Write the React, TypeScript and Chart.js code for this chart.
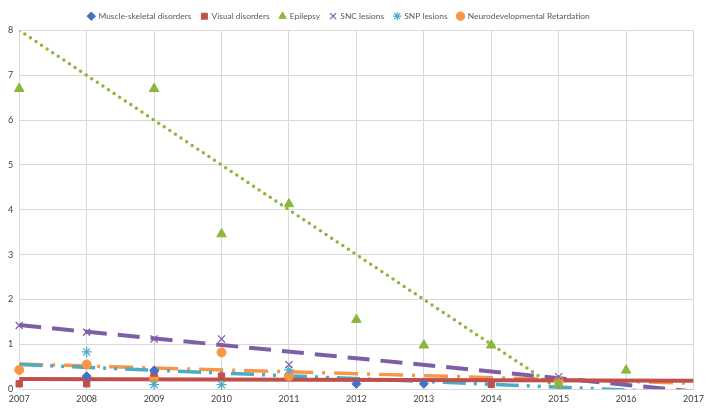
import { useEffect, useRef } from 'react';
import { Chart, registerables } from 'chart.js';

Chart.register(...registerables);

// ---- data ----
const muscleYears = [2008, 2009, 2012, 2013];
const muscleValues = [0.29, 0.42, 0.12, 0.12];

const visualYears = [2007, 2008, 2009, 2010, 2014];
const visualValues = [0.12, 0.12, 0.36, 0.29, 0.11];

const epilepsyYears = [2007, 2009, 2010, 2011, 2012, 2013, 2014, 2015, 2016];
const epilepsyValues = [6.7, 6.7, 3.46, 4.13, 1.55, 0.98, 0.98, 0.12, 0.42];

const sncYears = [2007, 2008, 2009, 2010, 2011, 2015];
const sncValues = [1.42, 1.27, 1.12, 1.12, 0.55, 0.28];

const snpYears = [2008, 2009, 2010, 2011];
const snpValues = [0.83, 0.1, 0.1, 0.43];

const neuroYears = [2007, 2008, 2009, 2010, 2011, 2015];
const neuroValues = [0.43, 0.55, 0.25, 0.82, 0.29, 0.18];

// linear trendlines (value at first and last year)
const trendYears = [2007, 2017];
const visualTrend = [0.23, 0.19];
const epilepsyTrend = [8.0, -2.0];
const sncTrend = [1.43, -0.05];
const snpTrend = [0.55, -0.08];
const neuroTrend = [0.56, 0.13];

const seriesNames = [
  'Muscle-skeletal disorders',
  'Visual disorders',
  'Epilepsy',
  'SNC lesions',
  'SNP lesions',
  'Neurodevelopmental Retardation',
];

const BLUE = '#4472C4';
const RED = '#C0504D';
const GREEN = '#8CB63C';
const PURPLE = '#7E5FA6';
const CYAN = '#4BACC6';
const ORANGE = '#F79646';

const pts = (xs: number[], ys: number[]) => xs.map((x, i) => ({ x, y: ys[i] }));

const legendShift = {
  id: 'legendShift',
  afterLayout(chart: any) {
    const l = chart.legend;
    if (l) {
      l.left -= 14;
      l.right -= 14;
    }
  },
};

export default function App() {
  const ref = useRef<HTMLCanvasElement | null>(null);

  useEffect(() => {
    document.body.style.margin = '0';
    const canvas = ref.current;
    if (!canvas) return;

    const marker = (label: string, data: any, color: string, style: string, radius: number) => ({
      type: 'scatter' as const,
      label,
      data,
      showLine: false,
      clip: false,
      pointStyle: style,
      pointRadius: radius,
      pointHoverRadius: radius,
      backgroundColor: color,
      borderColor: color,
      pointBorderWidth: style === 'crossRot' || style === 'star' ? 1.2 : 1,
      order: 0,
    });

    const trend = (data: any, color: string, width: number, dash: number[], cap: CanvasLineCap) => ({
      type: 'line' as const,
      label: '__trend',
      data,
      showLine: true,
      pointRadius: 0,
      pointHoverRadius: 0,
      borderColor: color,
      backgroundColor: color,
      borderWidth: width,
      borderDash: dash,
      borderCapStyle: cap,
      fill: false,
      tension: 0,
      order: 1,
    });

    const chart = new Chart(canvas, {
      type: 'scatter',
      data: {
        datasets: [
          marker(seriesNames[0], pts(muscleYears, muscleValues), BLUE, 'rectRot', 4.5),
          marker(seriesNames[1], pts(visualYears, visualValues), RED, 'rect', 4.5),
          marker(seriesNames[2], pts(epilepsyYears, epilepsyValues), GREEN, 'triangle', 5.5),
          marker(seriesNames[3], pts(sncYears, sncValues), PURPLE, 'crossRot', 5),
          marker(seriesNames[4], pts(snpYears, snpValues), CYAN, 'star', 5),
          marker(seriesNames[5], pts(neuroYears, neuroValues), ORANGE, 'circle', 4.5),
          trend(pts(trendYears, visualTrend), RED, 4, [], 'butt'),
          trend(pts(trendYears, epilepsyTrend), GREEN, 3.5, [0, 6.7], 'round'),
          trend(pts(trendYears, sncTrend), PURPLE, 4, [22, 11], 'butt'),
          trend(pts(trendYears, snpTrend), CYAN, 3.5, [23, 8, 3, 8, 3, 8], 'butt'),
          trend(pts(trendYears, neuroTrend), ORANGE, 3.5, [24, 9, 3, 9], 'butt'),
        ] as any,
      },
      options: {
        responsive: false,
        animation: false,
        events: [],
        layout: { padding: { left: 2, right: 4, top: 2, bottom: 4 } },
        plugins: {
          tooltip: { enabled: false },
          legend: {
            display: true,
            position: 'top',
            labels: {
              filter: (item: any) => item.text !== '__trend',
              usePointStyle: true,
              boxWidth: 6,
              boxHeight: 6,
              padding: 10,
              color: '#595959',
              font: { family: 'Lato', size: 8.4 },
            },
          },
        },
        scales: {
          x: {
            type: 'linear',
            min: 2007,
            max: 2017,
            ticks: {
              stepSize: 1,
              color: '#404040',
              font: { family: 'Lato', size: 9 },
              padding: 4,
              maxRotation: 0,
              callback: (v: any) => String(v),
            },
            grid: { color: '#D9D9D9', lineWidth: 1, drawTicks: false },
            border: { color: '#D9D9D9' },
          },
          y: {
            type: 'linear',
            min: 0,
            max: 8,
            ticks: {
              stepSize: 1,
              color: '#404040',
              font: { family: 'Lato', size: 9 },
              padding: 6,
            },
            grid: { color: '#D9D9D9', lineWidth: 1, drawTicks: false },
            border: { color: '#D9D9D9' },
          },
        },
      },
      plugins: [legendShift],
    });

    return () => chart.destroy();
  }, []);

  return (
    <div style={{ position: 'relative', width: 708, height: 412 }}>
      <canvas ref={ref} width={708} height={412} style={{ display: 'block' }} />
    </div>
  );
}
